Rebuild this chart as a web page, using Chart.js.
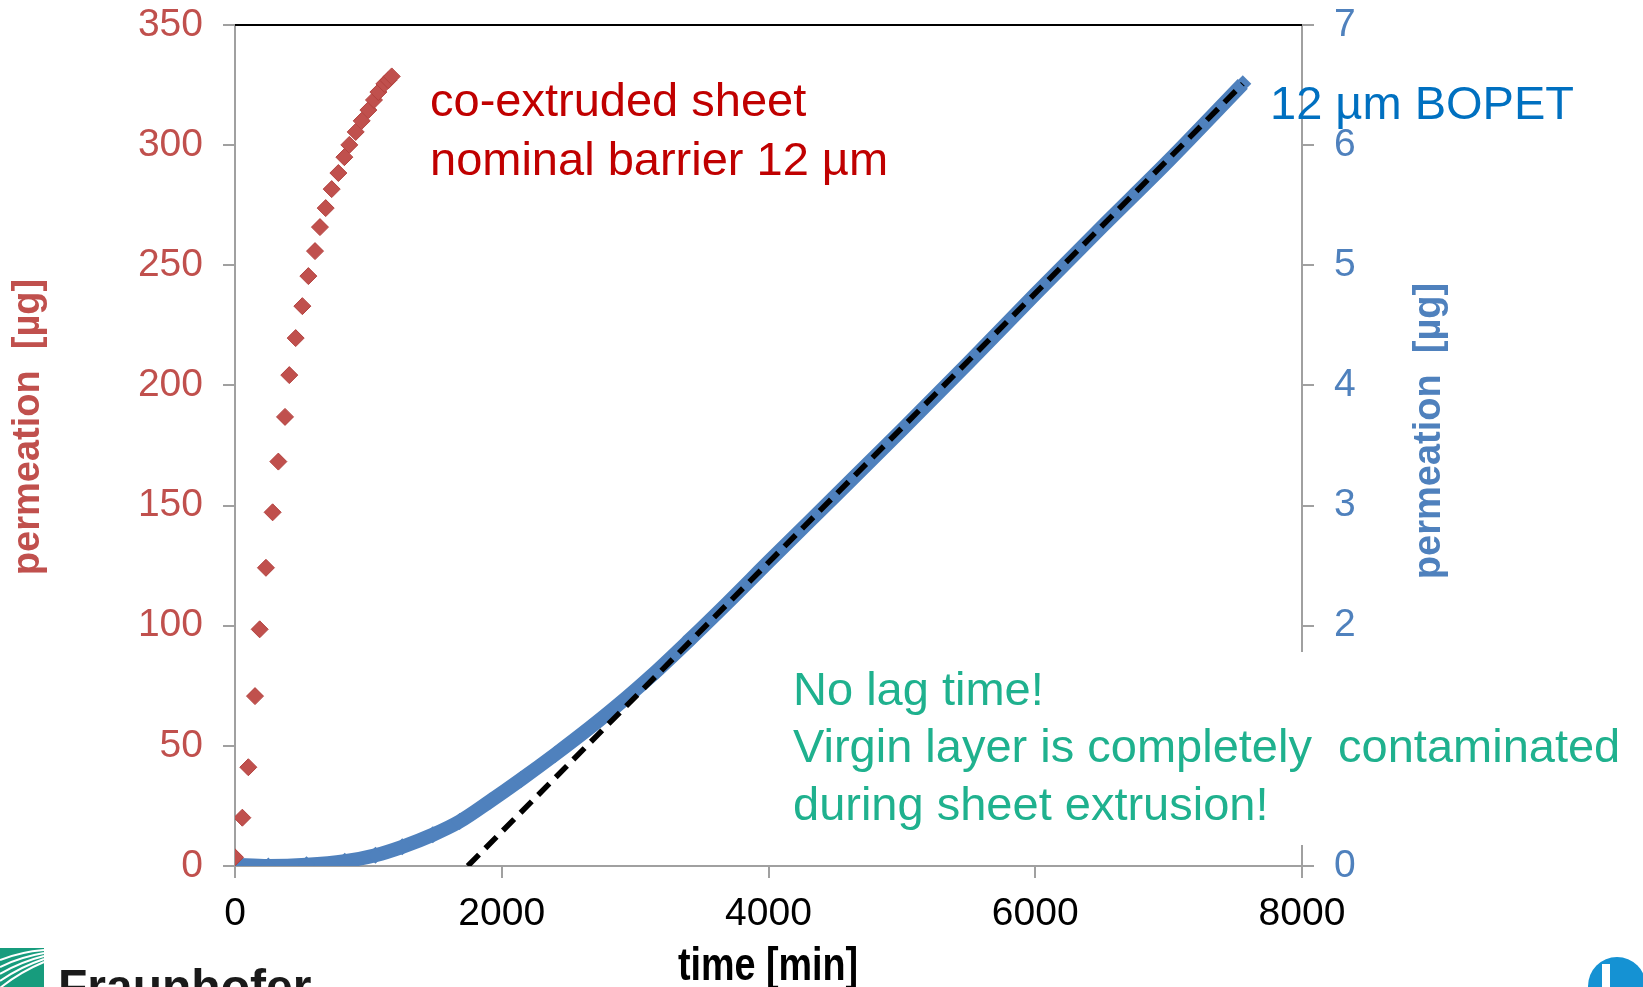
<!DOCTYPE html>
<html>
<head>
<meta charset="utf-8">
<script src="https://cdn.jsdelivr.net/npm/chart.js@4.4.1/dist/chart.umd.min.js"></script>
<style>
  html, body { margin: 0; padding: 0; background: #fff; }
  #wrap { width: 1643px; height: 987px; }
</style>
</head>
<body>
<div id="wrap"><canvas id="permChart" width="1643" height="987"></canvas></div>
<script>
// co-extruded sheet, left axis [µg]
const sheetTime = [0, 55, 100, 150, 185, 232, 282, 325, 375, 407, 455, 505, 550, 600, 637, 680, 725, 775, 820, 857, 905, 950, 1000, 1042, 1075, 1120, 1150, 1175];
const sheetPerm = [3.6, 20.1, 41.1, 70.7, 98.5, 124.1, 147.2, 168.3, 186.9, 204.3, 219.7, 233.0, 245.5, 255.9, 265.9, 273.8, 281.7, 288.4, 295.0, 300.1, 305.5, 310.1, 314.6, 318.8, 322.1, 325.5, 327.0, 328.6];

// 12 µm BOPET, right axis [µg]
const bopetTime = [0, 250, 536, 823, 1053, 1254, 1483, 1684, 1913, 2144, 2402, 2660, 2860, 3119, 3406, 3693, 4008, 4500, 5000, 5500, 6000, 6500, 7000, 7556];
const bopetPerm = [0.01, 0.0, 0.01, 0.04, 0.09, 0.16, 0.26, 0.37, 0.54, 0.72, 0.93, 1.15, 1.33, 1.58, 1.88, 2.19, 2.54, 3.08, 3.63, 4.19, 4.76, 5.32, 5.87, 6.51];

// steady-state fit line (dashed)
const fitTime = [1745, 7556];
const fitPerm = [0, 6.51];

const timeRange = [0, 8000, 2000];
const leftRange = [0, 350, 50];
const rightRange = [0, 7, 1];

const FONT = "'Liberation Sans', Arial, sans-serif";
const axisGray = '#A0A0A0';

const toPoints = (xs, ys) => xs.map((x, i) => ({ x, y: ys[i] }));

const overlay = {
  id: 'overlay',
  afterDraw(chart) {
    const { ctx, chartArea } = chart;
    ctx.save();

    // top border of the plot box
    ctx.strokeStyle = '#000';
    ctx.lineWidth = 2;
    ctx.beginPath();
    ctx.moveTo(chartArea.left, chartArea.top);
    ctx.lineTo(chartArea.right, chartArea.top);
    ctx.stroke();

    // red note
    ctx.font = '47px ' + FONT;
    ctx.textBaseline = 'middle';
    ctx.textAlign = 'left';
    ctx.fillStyle = '#C00000';
    ctx.fillText('co-extruded sheet', 430, 103);
    ctx.fillText('nominal barrier 12 µm', 430, 162);

    // blue note
    ctx.fillStyle = '#0070C0';
    ctx.fillText('12 µm BOPET', 1270, 106);

    // green note on white box
    ctx.fillStyle = '#fff';
    ctx.fillRect(793, 652, 850, 193);
    ctx.fillStyle = '#1FB18E';
    ctx.fillText('No lag time!', 793, 692);
    ctx.fillText('Virgin layer is completely  contaminated', 793, 749);
    ctx.fillText('during sheet extrusion!', 793, 807);

    // axis titles
    ctx.font = 'bold 38px ' + FONT;
    ctx.textAlign = 'center';
    ctx.save();
    ctx.translate(29, 427);
    ctx.rotate(-Math.PI / 2);
    ctx.fillStyle = '#C0504D';
    ctx.fillText('permeation  [µg]', 0, 0);
    ctx.restore();
    ctx.save();
    ctx.translate(1430, 431);
    ctx.rotate(-Math.PI / 2);
    ctx.fillStyle = '#4F81BD';
    ctx.fillText('permeation  [µg]', 0, 0);
    ctx.restore();

    ctx.save();
    ctx.translate(768, 980);
    ctx.scale(0.82, 1);
    ctx.font = 'bold 46px ' + FONT;
    ctx.textBaseline = 'alphabetic';
    ctx.fillStyle = '#000';
    ctx.fillText('time [min]', 0, 0);
    ctx.restore();

    // Fraunhofer logo (cut off)
    ctx.fillStyle = '#179C7D';
    ctx.fillRect(0, 948, 44, 39);
    ctx.strokeStyle = '#fff';
    ctx.lineWidth = 2;
    for (let i = 0; i < 5; i++) {
      ctx.beginPath();
      ctx.moveTo(0, 960 + i * 7);
      ctx.quadraticCurveTo(20, 952 + i * 5, 44, 950 + i * 3);
      ctx.stroke();
    }
    ctx.font = 'bold 48px ' + FONT;
    ctx.textAlign = 'left';
    ctx.textBaseline = 'alphabetic';
    ctx.fillStyle = '#1A1A1A';
    ctx.fillText('Fraunhofer', 58, 1003);

    // logo at bottom right (cut off)
    ctx.fillStyle = '#1592D3';
    ctx.beginPath();
    ctx.arc(1617, 986, 29, 0, Math.PI * 2);
    ctx.fill();
    ctx.beginPath();
    ctx.arc(1672, 986, 29, 0, Math.PI * 2);
    ctx.fill();
    ctx.fillStyle = '#fff';
    ctx.fillRect(1602, 964, 8, 30);

    ctx.restore();
  }
};

const noPad = s => { s.paddingTop = 0; s.paddingBottom = 0; };

new Chart(document.getElementById('permChart'), {
  type: 'scatter',
  data: {
    datasets: [
      {
        label: 'fit',
        data: toPoints(fitTime, fitPerm),
        yAxisID: 'y2',
        showLine: true,
        borderColor: '#000',
        borderWidth: 5.5,
        borderDash: [16, 9],
        pointRadius: 0
      },
      {
        label: 'co-extruded sheet',
        data: toPoints(sheetTime, sheetPerm),
        yAxisID: 'y',
        showLine: false,
        pointStyle: 'rectRot',
        pointRadius: 8.5,
        pointBackgroundColor: '#C0504D',
        pointBorderColor: '#B3423F',
        pointBorderWidth: 1
      },
      {
        label: '12 µm BOPET',
        data: toPoints(bopetTime, bopetPerm),
        yAxisID: 'y2',
        showLine: true,
        cubicInterpolationMode: 'monotone',
        borderColor: '#4F81BD',
        borderWidth: 14,
        pointStyle: 'rectRot',
        pointRadius: 8.5,
        pointBackgroundColor: '#4F81BD',
        pointBorderWidth: 0
      }
    ]
  },
  options: {
    responsive: false,
    animation: false,
    events: [],
    layout: { padding: { top: 25, left: 0, right: 0, bottom: 0 } },
    plugins: { legend: { display: false }, tooltip: { enabled: false } },
    scales: {
      x: {
        type: 'linear',
        min: timeRange[0], max: timeRange[1],
        ticks: { stepSize: timeRange[2], color: '#000', font: { family: FONT, size: 39 }, padding: 13, maxRotation: 0, callback: v => String(v) },
        grid: { drawOnChartArea: false, tickLength: 12, color: axisGray, lineWidth: 2 },
        border: { color: axisGray, width: 2 },
        afterFit: s => { s.height = 121; }
      },
      y: {
        position: 'left',
        min: leftRange[0], max: leftRange[1],
        ticks: { stepSize: leftRange[2], color: '#C0504D', font: { family: FONT, size: 39 }, padding: 20, callback: v => String(v) },
        grid: { drawOnChartArea: false, tickLength: 12, color: axisGray, lineWidth: 2 },
        border: { color: axisGray, width: 2 },
        afterFit: s => { s.width = 235; noPad(s); }
      },
      y2: {
        position: 'right',
        min: rightRange[0], max: rightRange[1],
        ticks: { stepSize: rightRange[2], color: '#4F81BD', font: { family: FONT, size: 39 }, padding: 20, callback: v => String(v) },
        grid: { drawOnChartArea: false, tickLength: 12, color: axisGray, lineWidth: 2 },
        border: { color: axisGray, width: 2 },
        afterFit: s => { s.width = 341; noPad(s); }
      }
    }
  },
  plugins: [overlay]
});
</script>
</body>
</html>
